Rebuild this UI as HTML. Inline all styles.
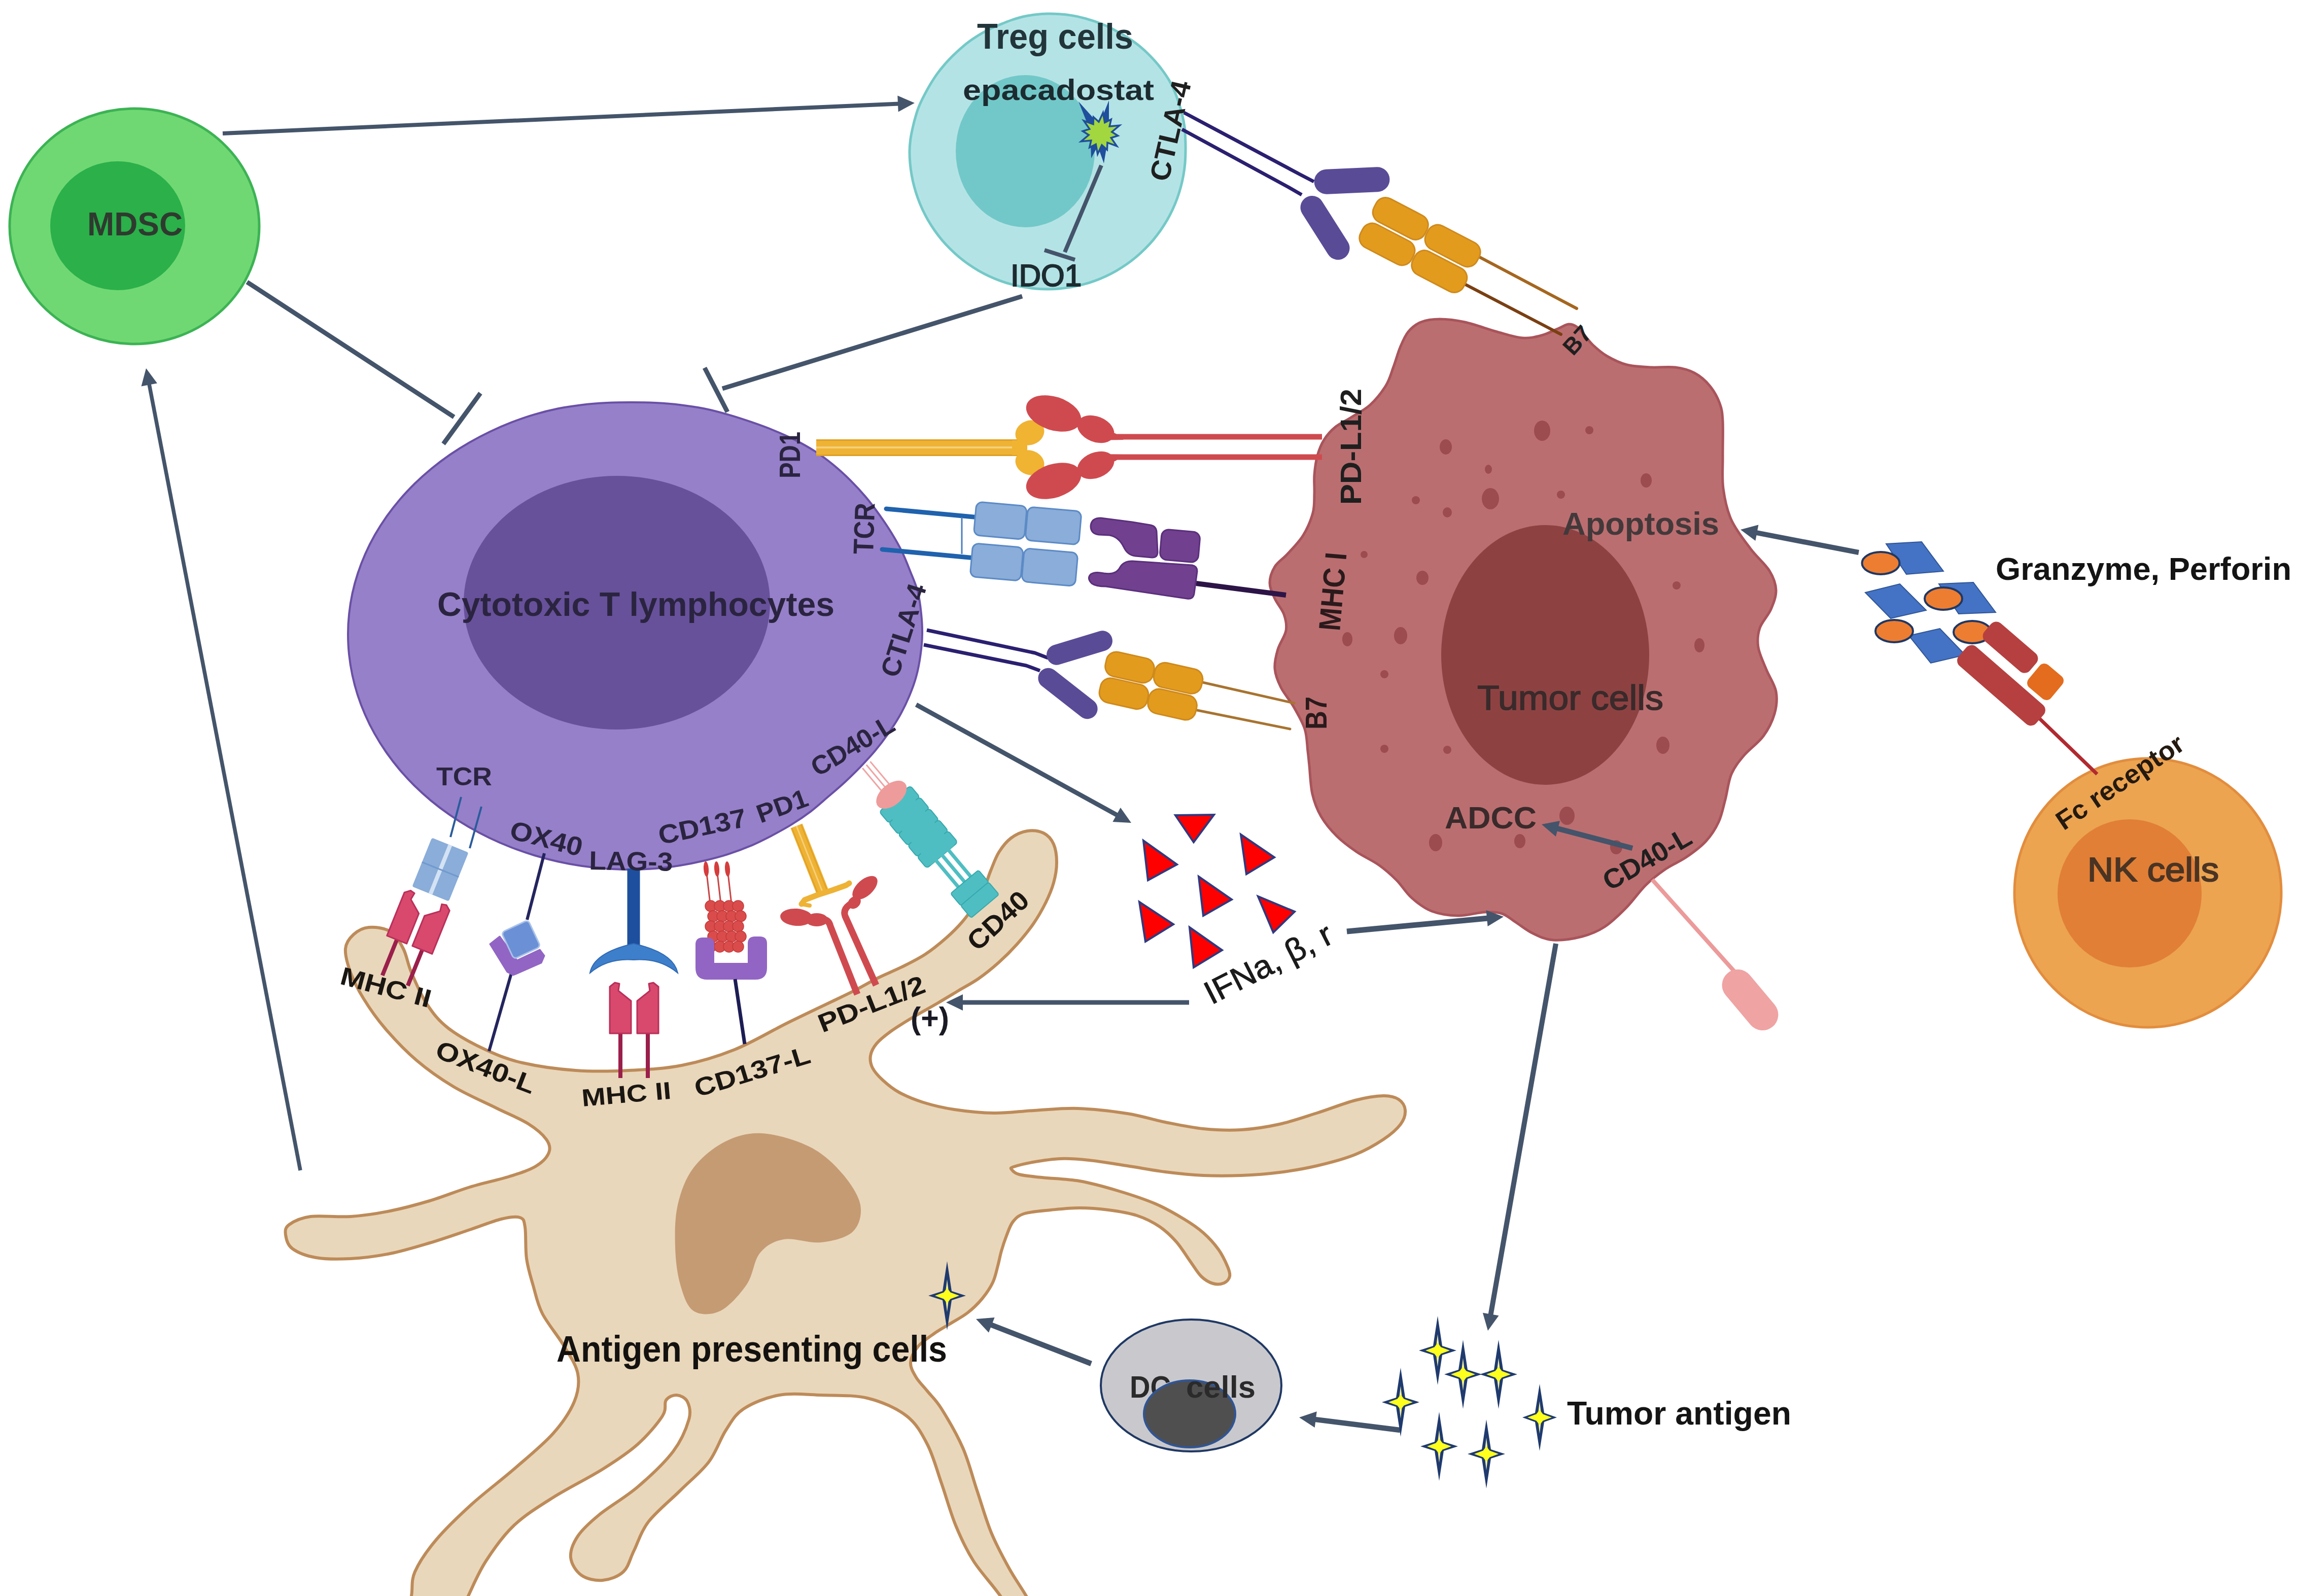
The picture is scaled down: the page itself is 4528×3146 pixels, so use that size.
<!DOCTYPE html>
<html><head><meta charset="utf-8"><title>Tumor immune microenvironment</title>
<style>
html,body{margin:0;padding:0;background:#fff;}
body{width:4528px;height:3146px;overflow:hidden;}
svg{display:block;font-family:"Liberation Sans",sans-serif;}
</style></head><body>
<svg xmlns="http://www.w3.org/2000/svg" width="4528" height="3146" viewBox="0 0 4528 3146">
<rect width="4528" height="3146" fill="#ffffff"/>
<path d="M681.0 1870.0 C682.0 1857.5 689.3 1849.0 697.0 1842.0 C704.7 1835.0 715.0 1829.0 727.0 1828.0 C739.0 1827.0 757.7 1829.0 769.0 1836.0 C780.3 1843.0 788.0 1856.5 795.0 1870.0 C802.0 1883.5 803.2 1898.7 811.0 1917.0 C818.8 1935.3 829.8 1961.7 842.0 1980.0 C854.2 1998.3 864.8 2012.2 884.0 2027.0 C903.2 2041.8 932.7 2057.7 957.0 2069.0 C981.3 2080.3 1000.3 2088.2 1030.0 2095.0 C1059.7 2101.8 1100.2 2107.5 1135.0 2110.0 C1169.8 2112.5 1204.2 2111.7 1239.0 2110.0 C1273.8 2108.3 1309.2 2106.8 1344.0 2100.0 C1378.8 2093.2 1413.2 2083.0 1448.0 2069.0 C1482.8 2055.0 1518.2 2033.2 1553.0 2016.0 C1587.8 1998.8 1633.3 1977.5 1657.0 1966.0 C1680.7 1954.5 1682.5 1953.5 1695.0 1947.0 C1707.5 1940.5 1717.8 1934.0 1732.0 1927.0 C1746.2 1920.0 1764.7 1912.7 1780.0 1905.0 C1795.3 1897.3 1809.8 1890.3 1824.0 1881.0 C1838.2 1871.7 1852.8 1859.7 1865.0 1849.0 C1877.2 1838.3 1887.7 1827.8 1897.0 1817.0 C1906.3 1806.2 1913.7 1795.5 1921.0 1784.0 C1928.3 1772.5 1935.7 1759.3 1941.0 1748.0 C1946.3 1736.7 1948.3 1727.3 1953.0 1716.0 C1957.7 1704.7 1962.3 1690.7 1969.0 1680.0 C1975.7 1669.3 1983.7 1659.0 1993.0 1652.0 C2002.3 1645.0 2014.3 1639.7 2025.0 1638.0 C2035.7 1636.3 2048.3 1637.7 2057.0 1642.0 C2065.7 1646.3 2072.7 1654.3 2077.0 1664.0 C2081.3 1673.7 2083.0 1687.3 2083.0 1700.0 C2083.0 1712.7 2080.7 1726.7 2077.0 1740.0 C2073.3 1753.3 2067.7 1766.5 2061.0 1780.0 C2054.3 1793.5 2046.3 1807.5 2037.0 1821.0 C2027.7 1834.5 2016.3 1848.3 2005.0 1861.0 C1993.7 1873.7 1981.7 1885.7 1969.0 1897.0 C1956.3 1908.3 1942.3 1919.7 1929.0 1929.0 C1915.7 1938.3 1902.3 1945.0 1889.0 1953.0 C1875.7 1961.0 1863.8 1968.3 1849.0 1977.0 C1834.2 1985.7 1815.5 1995.7 1800.0 2005.0 C1784.5 2014.3 1768.0 2024.3 1756.0 2033.0 C1744.0 2041.7 1734.7 2049.0 1728.0 2057.0 C1721.3 2065.0 1717.3 2073.0 1716.0 2081.0 C1714.7 2089.0 1716.0 2097.0 1720.0 2105.0 C1724.0 2113.0 1731.3 2121.0 1740.0 2129.0 C1748.7 2137.0 1758.7 2145.7 1772.0 2153.0 C1785.3 2160.3 1801.8 2167.3 1820.0 2173.0 C1838.2 2178.7 1857.7 2183.5 1881.0 2187.0 C1904.3 2190.5 1933.8 2193.7 1960.0 2194.0 C1986.2 2194.3 2010.5 2190.5 2038.0 2189.0 C2065.5 2187.5 2094.3 2184.0 2125.0 2185.0 C2155.7 2186.0 2193.3 2190.5 2222.0 2195.0 C2250.7 2199.5 2272.0 2207.0 2297.0 2212.0 C2322.0 2217.0 2347.0 2222.5 2372.0 2225.0 C2397.0 2227.5 2422.0 2228.5 2447.0 2227.0 C2472.0 2225.5 2497.2 2221.5 2522.0 2216.0 C2546.8 2210.5 2571.2 2201.8 2596.0 2194.0 C2620.8 2186.2 2649.2 2174.7 2671.0 2169.0 C2692.8 2163.3 2712.7 2160.3 2727.0 2160.0 C2741.3 2159.7 2749.8 2162.3 2757.0 2167.0 C2764.2 2171.7 2769.3 2179.8 2770.0 2188.0 C2770.7 2196.2 2768.2 2206.3 2761.0 2216.0 C2753.8 2225.7 2742.0 2236.0 2727.0 2246.0 C2712.0 2256.0 2692.8 2267.3 2671.0 2276.0 C2649.2 2284.7 2620.8 2292.2 2596.0 2298.0 C2571.2 2303.8 2546.8 2307.8 2522.0 2311.0 C2497.2 2314.2 2472.0 2316.0 2447.0 2317.0 C2422.0 2318.0 2397.0 2318.2 2372.0 2317.0 C2347.0 2315.8 2322.0 2313.2 2297.0 2310.0 C2272.0 2306.8 2247.0 2301.8 2222.0 2298.0 C2197.0 2294.2 2168.8 2289.3 2147.0 2287.0 C2125.2 2284.7 2109.7 2283.3 2091.0 2284.0 C2072.3 2284.7 2050.5 2288.3 2035.0 2291.0 C2019.5 2293.7 2004.8 2297.7 1998.0 2300.0 C1991.2 2302.3 1992.2 2302.5 1994.0 2305.0 C1995.8 2307.5 1999.0 2312.3 2009.0 2315.0 C2019.0 2317.7 2034.2 2318.8 2054.0 2321.0 C2073.8 2323.2 2103.2 2323.7 2128.0 2328.0 C2152.8 2332.3 2178.0 2339.5 2203.0 2347.0 C2228.0 2354.5 2256.2 2363.7 2278.0 2373.0 C2299.8 2382.3 2318.3 2393.5 2334.0 2403.0 C2349.7 2412.5 2360.7 2420.0 2372.0 2430.0 C2383.3 2440.0 2394.0 2451.8 2402.0 2463.0 C2410.0 2474.2 2416.3 2488.2 2420.0 2497.0 C2423.7 2505.8 2425.2 2510.7 2424.0 2516.0 C2422.8 2521.3 2418.5 2526.7 2413.0 2529.0 C2407.5 2531.3 2398.5 2532.2 2391.0 2530.0 C2383.5 2527.8 2375.5 2523.3 2368.0 2516.0 C2360.5 2508.7 2354.2 2497.3 2346.0 2486.0 C2337.8 2474.7 2329.0 2459.3 2319.0 2448.0 C2309.0 2436.7 2299.0 2426.7 2286.0 2418.0 C2273.0 2409.3 2257.8 2401.5 2241.0 2396.0 C2224.2 2390.5 2203.8 2387.5 2185.0 2385.0 C2166.2 2382.5 2146.8 2381.0 2128.0 2381.0 C2109.2 2381.0 2090.0 2383.2 2072.0 2385.0 C2054.0 2386.8 2032.5 2388.2 2020.0 2392.0 C2007.5 2395.8 2003.0 2400.7 1997.0 2408.0 C1991.0 2415.3 1987.8 2426.3 1984.0 2436.0 C1980.2 2445.7 1976.8 2456.2 1974.0 2466.0 C1971.2 2475.8 1969.8 2484.7 1967.0 2495.0 C1964.2 2505.3 1962.2 2517.2 1957.0 2528.0 C1951.8 2538.8 1944.3 2550.0 1936.0 2560.0 C1927.7 2570.0 1918.0 2579.5 1907.0 2588.0 C1896.0 2596.5 1881.0 2604.2 1870.0 2611.0 C1859.0 2617.8 1851.2 2621.7 1841.0 2629.0 C1830.8 2636.3 1816.7 2645.5 1809.0 2655.0 C1801.3 2664.5 1795.5 2676.0 1795.0 2686.0 C1794.5 2696.0 1800.5 2705.7 1806.0 2715.0 C1811.5 2724.3 1819.7 2731.7 1828.0 2742.0 C1836.3 2752.3 1844.3 2758.3 1856.0 2777.0 C1867.7 2795.7 1886.3 2827.2 1898.0 2854.0 C1909.7 2880.8 1916.7 2910.2 1926.0 2938.0 C1935.3 2965.8 1943.5 2995.5 1954.0 3021.0 C1964.5 3046.5 1977.5 3070.2 1989.0 3091.0 C2000.5 3111.8 2011.2 3126.2 2023.0 3146.0 C2034.8 3165.8 2062.2 3199.3 2060.0 3210.0 C2057.8 3220.7 2024.7 3220.7 2010.0 3210.0 C1995.3 3199.3 1987.2 3168.2 1972.0 3146.0 C1956.8 3123.8 1933.7 3100.2 1919.0 3077.0 C1904.3 3053.8 1894.5 3032.5 1884.0 3007.0 C1873.5 2981.5 1865.3 2950.7 1856.0 2924.0 C1846.7 2897.3 1839.5 2869.2 1828.0 2847.0 C1816.5 2824.8 1806.7 2806.2 1787.0 2791.0 C1767.3 2775.8 1738.0 2762.8 1710.0 2756.0 C1682.0 2749.2 1648.0 2751.0 1619.0 2750.0 C1590.0 2749.0 1561.5 2745.5 1536.0 2750.0 C1510.5 2754.5 1483.5 2765.5 1466.0 2777.0 C1448.5 2788.5 1442.5 2801.5 1431.0 2819.0 C1419.5 2836.5 1412.0 2862.2 1397.0 2882.0 C1382.0 2901.8 1360.8 2918.3 1341.0 2938.0 C1321.2 2957.7 1293.2 2980.3 1278.0 3000.0 C1262.8 3019.7 1258.2 3039.7 1250.0 3056.0 C1241.8 3072.3 1239.3 3088.2 1229.0 3098.0 C1218.7 3107.8 1201.8 3113.8 1188.0 3115.0 C1174.2 3116.2 1156.5 3112.5 1146.0 3105.0 C1135.5 3097.5 1126.2 3082.8 1125.0 3070.0 C1123.8 3057.2 1129.7 3042.0 1139.0 3028.0 C1148.3 3014.0 1161.3 3002.2 1181.0 2986.0 C1200.7 2969.8 1232.7 2951.8 1257.0 2931.0 C1281.3 2910.2 1310.2 2883.2 1327.0 2861.0 C1343.8 2838.8 1353.3 2814.3 1358.0 2798.0 C1362.7 2781.7 1359.0 2771.0 1355.0 2763.0 C1351.0 2755.0 1341.0 2750.5 1334.0 2750.0 C1327.0 2749.5 1317.7 2753.2 1313.0 2760.0 C1308.3 2766.8 1315.3 2776.5 1306.0 2791.0 C1296.7 2805.5 1276.7 2829.5 1257.0 2847.0 C1237.3 2864.5 1215.8 2878.5 1188.0 2896.0 C1160.2 2913.5 1119.2 2933.5 1090.0 2952.0 C1060.8 2970.5 1035.0 2986.2 1013.0 3007.0 C991.0 3027.8 973.0 3053.8 958.0 3077.0 C943.0 3100.2 932.7 3125.5 923.0 3146.0 C913.3 3166.5 920.5 3191.0 900.0 3200.0 C879.5 3209.0 814.8 3209.0 800.0 3200.0 C785.2 3191.0 808.0 3163.0 811.0 3146.0 C814.0 3129.0 809.8 3116.5 818.0 3098.0 C826.2 3079.5 841.3 3057.2 860.0 3035.0 C878.7 3012.8 904.5 2988.2 930.0 2965.0 C955.5 2941.8 986.3 2919.2 1013.0 2896.0 C1039.7 2872.8 1070.2 2848.2 1090.0 2826.0 C1109.8 2803.8 1123.8 2782.7 1132.0 2763.0 C1140.2 2743.3 1142.5 2726.5 1139.0 2708.0 C1135.5 2689.5 1122.7 2671.8 1111.0 2652.0 C1099.3 2632.2 1079.0 2608.7 1069.0 2589.0 C1059.0 2569.3 1056.2 2552.0 1051.0 2534.0 C1045.8 2516.0 1040.7 2500.2 1038.0 2481.0 C1035.3 2461.8 1037.2 2432.5 1035.0 2419.0 C1032.8 2405.5 1032.8 2402.7 1025.0 2400.0 C1017.2 2397.3 1004.5 2399.0 988.0 2403.0 C971.5 2407.0 949.5 2416.2 926.0 2424.0 C902.5 2431.8 873.2 2442.2 847.0 2450.0 C820.8 2457.8 795.0 2465.8 769.0 2471.0 C743.0 2476.2 715.3 2479.7 691.0 2481.0 C666.7 2482.3 642.2 2482.3 623.0 2479.0 C603.8 2475.7 586.0 2468.5 576.0 2461.0 C566.0 2453.5 564.0 2441.8 563.0 2434.0 C562.0 2426.2 561.8 2420.0 570.0 2414.0 C578.2 2408.0 591.8 2400.7 612.0 2398.0 C632.2 2395.3 664.8 2399.8 691.0 2398.0 C717.2 2396.2 743.0 2392.2 769.0 2387.0 C795.0 2381.8 820.8 2374.8 847.0 2367.0 C873.2 2359.2 899.8 2348.0 926.0 2340.0 C952.2 2332.0 982.3 2325.8 1004.0 2319.0 C1025.7 2312.2 1043.0 2306.8 1056.0 2299.0 C1069.0 2291.2 1078.5 2280.8 1082.0 2272.0 C1085.5 2263.2 1083.8 2255.5 1077.0 2246.0 C1070.2 2236.5 1057.5 2225.3 1041.0 2215.0 C1024.5 2204.7 1002.5 2196.2 978.0 2184.0 C953.5 2171.8 920.2 2157.7 894.0 2142.0 C867.8 2126.3 843.5 2109.2 821.0 2090.0 C798.5 2070.8 776.3 2047.2 759.0 2027.0 C741.7 2006.8 728.3 1987.3 717.0 1969.0 C705.7 1950.7 697.0 1933.5 691.0 1917.0 C685.0 1900.5 680.0 1882.5 681.0 1870.0Z" fill="#e9d7bb" stroke="#bd8b59" stroke-width="6" stroke-linejoin="round"/>
<path d="M1503.0 2234.0 C1530.8 2235.8 1570.8 2247.8 1597.0 2261.0 C1623.2 2274.2 1643.5 2294.0 1660.0 2313.0 C1676.5 2332.0 1692.5 2355.8 1696.0 2375.0 C1699.5 2394.2 1694.0 2415.7 1681.0 2428.0 C1668.0 2440.3 1640.7 2446.5 1618.0 2449.0 C1595.3 2451.5 1565.0 2439.5 1545.0 2443.0 C1525.0 2446.5 1510.2 2455.2 1498.0 2470.0 C1485.8 2484.8 1485.0 2513.0 1472.0 2532.0 C1459.0 2551.0 1437.5 2575.3 1420.0 2584.0 C1402.5 2592.7 1380.2 2592.7 1367.0 2584.0 C1353.8 2575.3 1347.0 2552.8 1341.0 2532.0 C1335.0 2511.2 1331.8 2485.2 1331.0 2459.0 C1330.2 2432.8 1330.0 2401.2 1336.0 2375.0 C1342.0 2348.8 1351.3 2322.8 1367.0 2302.0 C1382.7 2281.2 1407.3 2261.3 1430.0 2250.0 C1452.7 2238.7 1475.2 2232.2 1503.0 2234.0Z" fill="#c59b74"/>
<path d="M686.0 1250.0 C686.0 1236.5 686.7 1223.0 688.2 1209.6 C689.6 1196.1 691.8 1182.7 694.6 1169.5 C697.5 1156.2 701.1 1143.0 705.4 1130.0 C709.6 1117.0 714.6 1104.2 720.2 1091.5 C725.8 1078.9 732.1 1066.5 739.0 1054.3 C746.0 1042.2 753.6 1030.3 761.7 1018.7 C769.9 1007.1 778.7 995.8 788.1 984.8 C797.4 973.9 807.4 963.3 817.8 953.0 C828.3 942.8 839.3 933.0 850.8 923.5 C862.3 914.1 874.3 905.1 886.7 896.5 C899.1 888.0 912.0 879.8 925.3 872.2 C938.5 864.6 952.2 857.4 966.2 850.7 C980.2 844.1 994.6 837.9 1009.2 832.2 C1023.9 826.6 1038.8 821.3 1054.0 816.9 C1069.2 812.4 1084.7 808.5 1100.4 805.3 C1116.0 802.2 1131.9 799.9 1147.8 798.0 C1163.7 796.1 1179.8 795.0 1195.8 794.1 C1211.9 793.3 1227.9 793.0 1244.0 793.0 C1260.1 793.0 1276.1 793.3 1292.2 794.1 C1308.2 795.0 1324.3 796.1 1340.2 798.0 C1356.1 799.9 1372.0 802.2 1387.6 805.3 C1403.3 808.5 1418.7 812.5 1434.0 816.9 C1449.2 821.2 1464.2 826.1 1479.1 831.2 C1494.0 836.3 1508.9 841.6 1523.3 847.5 C1537.8 853.4 1552.2 859.6 1566.0 866.6 C1579.8 873.6 1593.4 881.1 1606.3 889.4 C1619.1 897.7 1631.4 907.0 1643.0 916.5 C1654.7 926.1 1665.8 936.3 1676.4 946.8 C1686.9 957.2 1697.0 968.1 1706.4 979.4 C1715.9 990.6 1724.6 1002.3 1733.0 1014.0 C1741.4 1025.8 1749.5 1037.7 1757.0 1049.8 C1764.5 1062.0 1771.7 1074.4 1777.9 1087.1 C1784.2 1099.8 1789.2 1113.1 1794.4 1126.2 C1799.6 1139.4 1805.6 1152.5 1809.2 1166.1 C1812.7 1179.7 1814.3 1193.9 1815.8 1207.9 C1817.3 1221.9 1818.2 1236.0 1818.0 1250.0 C1817.8 1264.0 1816.4 1278.1 1814.4 1292.0 C1812.5 1305.8 1809.9 1319.8 1806.2 1333.3 C1802.5 1346.8 1797.6 1360.1 1792.1 1373.0 C1786.7 1386.0 1780.4 1398.7 1773.5 1411.0 C1766.6 1423.2 1758.7 1435.0 1750.6 1446.6 C1742.5 1458.1 1733.9 1469.4 1724.8 1480.3 C1715.7 1491.2 1705.9 1501.5 1696.0 1511.8 C1686.0 1522.1 1675.8 1532.2 1665.2 1542.0 C1654.6 1551.8 1643.5 1561.1 1632.4 1570.6 C1621.2 1580.2 1610.3 1590.2 1598.4 1599.3 C1586.5 1608.3 1574.0 1616.9 1561.0 1624.9 C1548.1 1632.9 1534.6 1640.2 1520.9 1647.4 C1507.1 1654.5 1493.2 1661.6 1478.7 1667.7 C1464.3 1673.8 1449.4 1679.3 1434.3 1684.1 C1419.2 1688.9 1403.6 1692.9 1388.1 1696.5 C1372.5 1700.2 1356.7 1703.4 1340.8 1706.0 C1324.8 1708.5 1308.7 1710.6 1292.6 1711.9 C1276.5 1713.3 1260.2 1713.9 1244.0 1714.0 C1227.8 1714.1 1211.5 1713.4 1195.4 1712.2 C1179.2 1711.1 1163.1 1709.3 1147.1 1707.0 C1131.1 1704.6 1115.2 1701.7 1099.6 1698.2 C1083.9 1694.7 1068.4 1690.6 1053.2 1686.0 C1037.9 1681.4 1022.9 1676.2 1008.2 1670.5 C993.5 1664.8 979.0 1658.6 965.0 1651.8 C951.0 1645.1 937.2 1637.8 923.9 1630.1 C910.7 1622.4 897.7 1614.1 885.3 1605.4 C872.9 1596.8 860.9 1587.6 849.4 1578.1 C838.0 1568.6 827.0 1558.6 816.5 1548.3 C806.1 1537.9 796.2 1527.2 786.9 1516.1 C777.6 1505.1 768.9 1493.7 760.8 1482.0 C752.7 1470.3 745.1 1458.3 738.3 1446.1 C731.4 1433.9 725.2 1421.4 719.7 1408.7 C714.1 1396.0 709.2 1383.1 705.0 1370.1 C700.8 1357.1 697.3 1343.8 694.5 1330.6 C691.7 1317.3 689.5 1303.9 688.1 1290.4 C686.7 1277.0 686.0 1263.5 686.0 1250.0Z" fill="#9680c9" stroke="#6a50a6" stroke-width="4"/>
<ellipse cx="1216" cy="1188" rx="302" ry="250" fill="#67519a"/>
<path d="M2801.0 635.0 C2811.3 630.8 2823.5 629.0 2838.0 629.0 C2852.5 629.0 2869.2 630.8 2888.0 635.0 C2906.8 639.2 2932.2 648.8 2951.0 654.0 C2969.8 659.2 2986.3 664.8 3001.0 666.0 C3015.7 667.2 3027.0 664.2 3039.0 661.0 C3051.0 657.8 3064.2 650.7 3073.0 647.0 C3081.8 643.3 3086.2 639.5 3092.0 639.0 C3097.8 638.5 3103.0 640.7 3108.0 644.0 C3113.0 647.3 3116.7 653.0 3122.0 659.0 C3127.3 665.0 3132.3 672.8 3140.0 680.0 C3147.7 687.2 3156.8 695.5 3168.0 702.0 C3179.2 708.5 3192.5 715.3 3207.0 719.0 C3221.5 722.7 3239.2 723.2 3255.0 724.0 C3270.8 724.8 3287.8 722.2 3302.0 724.0 C3316.2 725.8 3328.7 729.0 3340.0 735.0 C3351.3 741.0 3361.7 750.0 3370.0 760.0 C3378.3 770.0 3385.7 783.3 3390.0 795.0 C3394.3 806.7 3395.0 812.5 3396.0 830.0 C3397.0 847.5 3395.8 877.8 3396.0 900.0 C3396.2 922.2 3394.2 942.2 3397.0 963.0 C3399.8 983.8 3404.0 1005.2 3413.0 1025.0 C3422.0 1044.8 3438.5 1065.3 3451.0 1082.0 C3463.5 1098.7 3479.7 1111.5 3488.0 1125.0 C3496.3 1138.5 3500.5 1150.3 3501.0 1163.0 C3501.5 1175.7 3496.3 1188.5 3491.0 1201.0 C3485.7 1213.5 3473.2 1225.5 3469.0 1238.0 C3464.8 1250.5 3463.8 1262.3 3466.0 1276.0 C3468.2 1289.7 3476.2 1305.5 3482.0 1320.0 C3487.8 1334.5 3498.3 1348.5 3501.0 1363.0 C3503.7 1377.5 3502.2 1392.3 3498.0 1407.0 C3493.8 1421.7 3486.0 1437.3 3476.0 1451.0 C3466.0 1464.7 3448.5 1476.5 3438.0 1489.0 C3427.5 1501.5 3419.2 1511.5 3413.0 1526.0 C3406.8 1540.5 3405.2 1560.3 3401.0 1576.0 C3396.8 1591.7 3394.3 1606.3 3388.0 1620.0 C3381.7 1633.7 3373.5 1646.5 3363.0 1658.0 C3352.5 1669.5 3338.5 1679.7 3325.0 1689.0 C3311.5 1698.3 3295.5 1704.7 3282.0 1714.0 C3268.5 1723.3 3256.7 1732.5 3244.0 1745.0 C3231.3 1757.5 3219.5 1775.3 3206.0 1789.0 C3192.5 1802.7 3177.5 1817.5 3163.0 1827.0 C3148.5 1836.5 3135.8 1841.7 3119.0 1846.0 C3102.2 1850.3 3078.2 1854.0 3062.0 1853.0 C3045.8 1852.0 3034.3 1845.8 3022.0 1840.0 C3009.7 1834.2 2998.2 1824.5 2988.0 1818.0 C2977.8 1811.5 2971.2 1804.3 2961.0 1801.0 C2950.8 1797.7 2941.5 1797.3 2927.0 1798.0 C2912.5 1798.7 2891.5 1805.3 2874.0 1805.0 C2856.5 1804.7 2837.2 1801.8 2822.0 1796.0 C2806.8 1790.2 2794.5 1780.2 2783.0 1770.0 C2771.5 1759.8 2763.8 1745.8 2753.0 1735.0 C2742.2 1724.2 2731.2 1714.3 2718.0 1705.0 C2704.8 1695.7 2687.8 1688.5 2674.0 1679.0 C2660.2 1669.5 2646.7 1659.7 2635.0 1648.0 C2623.3 1636.3 2612.0 1622.8 2604.0 1609.0 C2596.0 1595.2 2590.8 1581.7 2587.0 1565.0 C2583.2 1548.3 2582.5 1523.0 2581.0 1509.0 C2579.5 1495.0 2579.5 1493.0 2578.0 1481.0 C2576.5 1469.0 2576.7 1451.7 2572.0 1437.0 C2567.3 1422.3 2557.8 1406.7 2550.0 1393.0 C2542.2 1379.3 2531.2 1367.5 2525.0 1355.0 C2518.8 1342.5 2514.0 1330.5 2513.0 1318.0 C2512.0 1305.5 2515.3 1292.5 2519.0 1280.0 C2522.7 1267.5 2533.0 1254.5 2535.0 1243.0 C2537.0 1231.5 2534.7 1221.5 2531.0 1211.0 C2527.3 1200.5 2517.7 1190.3 2513.0 1180.0 C2508.3 1169.7 2503.0 1159.5 2503.0 1149.0 C2503.0 1138.5 2507.2 1126.5 2513.0 1117.0 C2518.8 1107.5 2528.7 1102.3 2538.0 1092.0 C2547.3 1081.7 2560.7 1068.5 2569.0 1055.0 C2577.3 1041.5 2584.3 1024.7 2588.0 1011.0 C2591.7 997.3 2590.5 985.5 2591.0 973.0 C2591.5 960.5 2590.0 948.5 2591.0 936.0 C2592.0 923.5 2593.8 909.5 2597.0 898.0 C2600.2 886.5 2604.2 876.3 2610.0 867.0 C2615.8 857.7 2623.2 849.3 2632.0 842.0 C2640.8 834.7 2651.5 830.3 2663.0 823.0 C2674.5 815.7 2689.5 808.5 2701.0 798.0 C2712.5 787.5 2724.3 772.5 2732.0 760.0 C2739.7 747.5 2742.3 735.5 2747.0 723.0 C2751.7 710.5 2755.2 696.5 2760.0 685.0 C2764.8 673.5 2769.2 662.3 2776.0 654.0 C2782.8 645.7 2790.7 639.2 2801.0 635.0Z" fill="#bb6e70" stroke="#a9545b" stroke-width="5"/>
<ellipse cx="2850" cy="881" rx="12" ry="15" fill="#9c4b4e"/>
<ellipse cx="3040" cy="849" rx="16" ry="20" fill="#9c4b4e"/>
<ellipse cx="3133" cy="848" rx="8" ry="8" fill="#9c4b4e"/>
<ellipse cx="2934" cy="925" rx="7" ry="9" fill="#9c4b4e"/>
<ellipse cx="2938" cy="983" rx="17" ry="21" fill="#9c4b4e"/>
<ellipse cx="2791" cy="986" rx="8" ry="8" fill="#9c4b4e"/>
<ellipse cx="2853" cy="1010" rx="9" ry="10" fill="#9c4b4e"/>
<ellipse cx="3077" cy="975" rx="8" ry="8" fill="#9c4b4e"/>
<ellipse cx="3245" cy="947" rx="11" ry="14" fill="#9c4b4e"/>
<ellipse cx="2689" cy="1093" rx="7" ry="7" fill="#9c4b4e"/>
<ellipse cx="2804" cy="1139" rx="12" ry="14" fill="#9c4b4e"/>
<ellipse cx="3305" cy="1154" rx="8" ry="8" fill="#9c4b4e"/>
<ellipse cx="2761" cy="1253" rx="13" ry="17" fill="#9c4b4e"/>
<ellipse cx="2656" cy="1260" rx="10" ry="14" fill="#9c4b4e"/>
<ellipse cx="3350" cy="1272" rx="10" ry="14" fill="#9c4b4e"/>
<ellipse cx="2729" cy="1329" rx="8" ry="8" fill="#9c4b4e"/>
<ellipse cx="2729" cy="1476" rx="8" ry="8" fill="#9c4b4e"/>
<ellipse cx="2853" cy="1478" rx="8" ry="8" fill="#9c4b4e"/>
<ellipse cx="3278" cy="1469" rx="13" ry="17" fill="#9c4b4e"/>
<ellipse cx="3089" cy="1608" rx="15" ry="18" fill="#9c4b4e"/>
<ellipse cx="2830" cy="1661" rx="13" ry="17" fill="#9c4b4e"/>
<ellipse cx="2996" cy="1658" rx="11" ry="14" fill="#9c4b4e"/>
<ellipse cx="3186" cy="1670" rx="12" ry="14" fill="#9c4b4e"/>
<ellipse cx="3046" cy="1291" rx="205" ry="256" fill="#8d4241"/>
<ellipse cx="265" cy="446" rx="246" ry="232" fill="#70d873" stroke="#3cb354" stroke-width="5"/>
<ellipse cx="232" cy="445" rx="133" ry="127" fill="#2bb04a"/>
<path d="M1793.0 298.0 C1793.1 290.1 1793.8 282.2 1794.8 274.4 C1795.9 266.6 1797.6 258.8 1799.3 251.2 C1801.0 243.5 1802.9 235.9 1805.2 228.4 C1807.4 220.9 1809.9 213.4 1813.0 206.3 C1816.0 199.1 1819.6 192.1 1823.2 185.3 C1826.8 178.4 1830.6 171.6 1834.6 165.0 C1838.7 158.4 1842.8 151.8 1847.3 145.6 C1851.8 139.3 1856.7 133.3 1861.8 127.5 C1866.8 121.7 1872.2 116.1 1877.6 110.6 C1883.1 105.2 1888.7 99.8 1894.5 94.8 C1900.3 89.7 1906.3 84.8 1912.6 80.3 C1918.8 75.8 1925.4 71.6 1932.0 67.6 C1938.6 63.7 1945.5 60.0 1952.4 56.6 C1959.4 53.2 1966.6 50.3 1973.8 47.4 C1981.0 44.4 1988.2 41.5 1995.6 39.0 C2003.0 36.5 2010.5 34.2 2018.2 32.5 C2025.8 30.8 2033.6 29.6 2041.4 28.7 C2049.2 27.8 2057.1 27.2 2065.0 27.0 C2072.9 26.8 2080.8 27.2 2088.6 27.8 C2096.5 28.3 2104.4 29.1 2112.2 30.4 C2120.0 31.6 2127.7 33.3 2135.4 35.3 C2143.1 37.2 2150.6 39.6 2158.1 42.2 C2165.6 44.8 2173.0 47.6 2180.3 50.8 C2187.5 54.0 2194.5 57.8 2201.5 61.6 C2208.5 65.4 2215.4 69.3 2222.2 73.6 C2228.9 77.8 2235.5 82.4 2241.8 87.3 C2248.1 92.2 2254.1 97.5 2260.0 103.0 C2265.8 108.5 2271.5 114.3 2276.8 120.3 C2282.1 126.3 2287.2 132.6 2291.9 139.1 C2296.7 145.6 2301.3 152.3 2305.3 159.3 C2309.3 166.2 2312.8 173.6 2315.9 181.0 C2319.0 188.4 2321.6 196.1 2324.0 203.7 C2326.5 211.4 2328.8 219.0 2330.6 226.8 C2332.5 234.6 2334.0 242.5 2335.1 250.4 C2336.1 258.3 2336.4 266.3 2336.7 274.2 C2337.1 282.2 2337.1 290.1 2337.0 298.0 C2336.9 305.9 2336.7 313.8 2336.0 321.7 C2335.3 329.6 2334.2 337.5 2332.9 345.2 C2331.5 353.0 2329.8 360.8 2327.7 368.4 C2325.7 376.0 2323.3 383.6 2320.6 391.0 C2317.9 398.5 2314.9 405.8 2311.5 413.0 C2308.2 420.1 2304.5 427.2 2300.6 434.0 C2296.6 440.8 2292.3 447.5 2287.8 454.0 C2283.3 460.5 2278.4 466.8 2273.4 472.8 C2268.3 478.9 2262.9 484.7 2257.3 490.3 C2251.7 495.9 2245.9 501.3 2239.8 506.4 C2233.8 511.4 2227.5 516.3 2221.0 520.8 C2214.5 525.3 2207.8 529.6 2201.0 533.6 C2194.2 537.5 2187.1 541.2 2180.0 544.5 C2172.8 547.9 2165.5 550.9 2158.0 553.6 C2150.6 556.3 2143.0 558.7 2135.4 560.7 C2127.8 562.8 2120.0 564.5 2112.2 565.9 C2104.5 567.2 2096.6 568.3 2088.7 569.0 C2080.8 569.7 2072.9 570.0 2065.0 570.0 C2057.1 570.0 2049.2 569.7 2041.3 569.0 C2033.4 568.3 2025.5 567.2 2017.8 565.9 C2010.0 564.5 2002.2 562.8 1994.6 560.7 C1987.0 558.7 1979.4 556.3 1972.0 553.6 C1964.5 550.9 1957.2 547.9 1950.0 544.5 C1942.9 541.2 1935.8 537.5 1929.0 533.6 C1922.2 529.6 1915.5 525.3 1909.0 520.8 C1902.5 516.3 1896.2 511.4 1890.2 506.4 C1884.1 501.3 1878.3 495.9 1872.7 490.3 C1867.1 484.7 1861.7 478.9 1856.6 472.8 C1851.6 466.8 1846.7 460.5 1842.2 454.0 C1837.7 447.5 1833.4 440.8 1829.4 434.0 C1825.5 427.2 1821.8 420.1 1818.5 413.0 C1815.1 405.8 1812.1 398.5 1809.4 391.0 C1806.7 383.6 1804.3 376.0 1802.3 368.4 C1800.2 360.8 1798.5 353.0 1797.1 345.2 C1795.8 337.5 1794.7 329.6 1794.0 321.7 C1793.3 313.8 1792.9 305.9 1793.0 298.0Z" fill="#b4e3e6" stroke="#74c9c7" stroke-width="5"/>
<ellipse cx="2021" cy="298" rx="137" ry="150" fill="#72c8c8"/>
<ellipse cx="4234" cy="1760" rx="263" ry="265" fill="#eca451" stroke="#e28d3e" stroke-width="5"/>
<ellipse cx="4198" cy="1761" rx="142" ry="146" fill="#e17f36"/>
<ellipse cx="2348" cy="2731" rx="178" ry="130" fill="#c9c9cd" stroke="#1f3864" stroke-width="4"/>
<path d="M2334 222 L2563 344 L2590 358" fill="none" stroke="#2a1f70" stroke-width="7" stroke-linejoin="round"/>
<path d="M2330 255 L2540 369 L2566 384" fill="none" stroke="#2a1f70" stroke-width="7" stroke-linejoin="round"/>
<rect x="2590.5" y="331.5" width="149.0" height="49.0" rx="24.5" ry="24.5" fill="#5a4b97" transform="rotate(-2.5 2665.0 356.0)"/>
<rect x="2541.5" y="426.0" width="141.0" height="46.0" rx="23.0" ry="23.0" fill="#5a4b97" transform="rotate(57.5 2612.0 449.0)"/>
<defs><linearGradient id="b7g" x1="0" y1="0" x2="1" y2="0"><stop offset="0" stop-color="#c98a2b"/><stop offset="1" stop-color="#5e2f10"/></linearGradient></defs>
<line x1="2900.0" y1="498.0" x2="3108.0" y2="608.0" stroke="#a5661f" stroke-width="6" stroke-linecap="round"/>
<line x1="2870.0" y1="551.0" x2="3077.0" y2="659.0" stroke="#7a3f12" stroke-width="6" stroke-linecap="round"/>
<g transform="translate(2799 483) rotate(27.5)">
<rect x="-114.5" y="-54.0" width="113" height="51" rx="21" ry="21" fill="#e39b1e" stroke="#cf8a1c" stroke-width="3"/>
<rect x="1.5" y="-54.0" width="113" height="51" rx="21" ry="21" fill="#e39b1e" stroke="#cf8a1c" stroke-width="3"/>
<rect x="-114.5" y="3.0" width="113" height="51" rx="21" ry="21" fill="#e39b1e" stroke="#cf8a1c" stroke-width="3"/>
<rect x="1.5" y="3.0" width="113" height="51" rx="21" ry="21" fill="#e39b1e" stroke="#cf8a1c" stroke-width="3"/>
</g>
<rect x="1609" y="866" width="400" height="33" fill="#eeb235"/>
<rect x="1609" y="880" width="400" height="4" fill="#f6cf78"/>
<rect x="1609" y="866" width="400" height="3" fill="#dfa024"/><rect x="1609" y="896" width="400" height="3" fill="#dfa024"/>
<ellipse cx="2030" cy="853" rx="29" ry="24" fill="#f0b332" transform="rotate(-20 2030 853)"/>
<ellipse cx="2030" cy="912" rx="29" ry="24" fill="#f0b332" transform="rotate(20 2030 912)"/>
<rect x="1995" y="868" width="30" height="29" fill="#f0b332"/>
<line x1="2190.0" y1="861.0" x2="2606.0" y2="861.0" stroke="#cf4a4f" stroke-width="11" stroke-linecap="butt"/>
<line x1="2190.0" y1="901.0" x2="2606.0" y2="901.0" stroke="#cf4a4f" stroke-width="11" stroke-linecap="butt"/>
<ellipse cx="2077" cy="815" rx="56" ry="33" fill="#cf4a4f" transform="rotate(18 2077 815)"/>
<ellipse cx="2160" cy="846" rx="38" ry="25" fill="#cf4a4f" transform="rotate(22 2160 846)"/>
<path d="M2120 820 L2200 855 L2215 867 L2150 868 Z" fill="#cf4a4f" />
<ellipse cx="2077" cy="948" rx="56" ry="33" fill="#cf4a4f" transform="rotate(-18 2077 948)"/>
<ellipse cx="2160" cy="917" rx="38" ry="25" fill="#cf4a4f" transform="rotate(-22 2160 917)"/>
<path d="M2120 943 L2200 908 L2215 896 L2150 895 Z" fill="#cf4a4f" />
<line x1="1747.0" y1="1003.0" x2="1930.0" y2="1020.0" stroke="#1f62ad" stroke-width="9" stroke-linecap="round"/>
<line x1="1739.0" y1="1083.0" x2="1922.0" y2="1100.0" stroke="#1f62ad" stroke-width="9" stroke-linecap="round"/>
<line x1="1896.0" y1="1020.0" x2="1896.0" y2="1092.0" stroke="#4d7fc0" stroke-width="3" stroke-linecap="butt"/>
<g transform="translate(1925 989) rotate(5)">
<rect x="0" y="0" width="100" height="66" rx="12" ry="12" fill="#8aadd9" stroke="#5c8ac6" stroke-width="3"/>
<rect x="102" y="1" width="106" height="66" rx="12" ry="12" fill="#8aadd9" stroke="#5c8ac6" stroke-width="3"/>
<rect x="0" y="82" width="100" height="66" rx="12" ry="12" fill="#8aadd9" stroke="#5c8ac6" stroke-width="3"/>
<rect x="102" y="83" width="106" height="66" rx="12" ry="12" fill="#8aadd9" stroke="#5c8ac6" stroke-width="3"/>
</g>
<path d="M2170 1021 L2232 1029 L2268 1035 Q2279 1037 2280 1048 L2282 1088 Q2282 1099 2271 1099 L2238 1096 Q2222 1094 2215 1078 Q2205 1058 2187 1055 L2166 1054 Q2150 1052 2150 1037 Q2151 1021 2170 1021 Z" fill="#71408f" stroke="#5b2f7c" stroke-width="3" />
<rect x="2288" y="1046" width="76" height="60" rx="14" ry="14" fill="#71408f" stroke="#5b2f7c" stroke-width="3" transform="rotate(5 2326 1076)"/>
<path d="M2150 1132 Q2142 1140 2152 1150 Q2160 1156 2180 1156 L2340 1180 Q2352 1182 2354 1170 L2360 1126 Q2360 1116 2350 1114 L2232 1106 Q2215 1106 2208 1118 Q2200 1134 2176 1130 Q2158 1126 2150 1132 Z" fill="#71408f" stroke="#5b2f7c" stroke-width="3" />
<line x1="2358.0" y1="1150.0" x2="2535.0" y2="1173.0" stroke="#2c1447" stroke-width="10" stroke-linecap="butt"/>
<path d="M1827 1242 L2040 1287 L2066 1297" fill="none" stroke="#2a1f70" stroke-width="7" stroke-linejoin="round"/>
<path d="M1821 1271 L2023 1312 L2050 1322" fill="none" stroke="#2a1f70" stroke-width="7" stroke-linejoin="round"/>
<rect x="2061.0" y="1257.0" width="134.0" height="40.0" rx="20.0" ry="20.0" fill="#5a4b97" transform="rotate(-17.0 2128.0 1277.0)"/>
<rect x="2036.0" y="1347.0" width="138.0" height="40.0" rx="20.0" ry="20.0" fill="#5a4b97" transform="rotate(38.0 2105.0 1367.0)"/>
<line x1="2366.0" y1="1344.0" x2="2551.0" y2="1386.0" stroke="#a8732f" stroke-width="5" stroke-linecap="round"/>
<line x1="2355.0" y1="1399.0" x2="2543.0" y2="1437.0" stroke="#a8732f" stroke-width="5" stroke-linecap="round"/>
<g transform="translate(2269 1352) rotate(12.6)">
<rect x="-97.0" y="-51.0" width="96" height="49" rx="20" ry="20" fill="#e39b1e" stroke="#cf8a1c" stroke-width="3"/>
<rect x="1.0" y="-51.0" width="96" height="49" rx="20" ry="20" fill="#e39b1e" stroke="#cf8a1c" stroke-width="3"/>
<rect x="-97.0" y="2.0" width="96" height="49" rx="20" ry="20" fill="#e39b1e" stroke="#cf8a1c" stroke-width="3"/>
<rect x="1.0" y="2.0" width="96" height="49" rx="20" ry="20" fill="#e39b1e" stroke="#cf8a1c" stroke-width="3"/>
</g>
<line x1="909.0" y1="1571.0" x2="888.0" y2="1650.0" stroke="#2a5c9c" stroke-width="4" stroke-linecap="butt"/>
<line x1="949.0" y1="1590.0" x2="926.0" y2="1672.0" stroke="#2a5c9c" stroke-width="4" stroke-linecap="butt"/>
<g transform="translate(868 1714) rotate(22)">
<rect x="-39" y="-52" width="78" height="104" rx="4" fill="#8aadd9"/>
<rect x="-4" y="-52" width="8" height="104" fill="#d3e2f4"/>
<line x1="-39" y1="0" x2="39" y2="0" stroke="#7199cd" stroke-width="3"/>
<line x1="-39" y1="-52" x2="39" y2="-52" stroke="#e6eef9" stroke-width="0"/>
</g>
<g transform="rotate(22.0 826.0 1816.0)">
<line x1="799.0" y1="1864.0" x2="799.0" y2="1942.0" stroke="#9b1f4b" stroke-width="8" stroke-linecap="butt"/>
<line x1="853.0" y1="1864.0" x2="853.0" y2="1942.0" stroke="#9b1f4b" stroke-width="8" stroke-linecap="butt"/>
<polygon points="778.0,1774.0 788.0,1766.0 797.0,1768.0 795.0,1782.0 820.0,1802.0 820.0,1866.0 778.0,1866.0" fill="#d9486d" stroke="#b9305a" stroke-width="3" stroke-linejoin="round"/>
<polygon points="874.0,1774.0 864.0,1766.0 855.0,1768.0 857.0,1782.0 832.0,1802.0 832.0,1866.0 874.0,1866.0" fill="#d9486d" stroke="#b9305a" stroke-width="3" stroke-linejoin="round"/>
</g>
<line x1="1073.0" y1="1682.0" x2="1039.0" y2="1813.0" stroke="#24245e" stroke-width="6" stroke-linecap="butt"/>
<line x1="1009.0" y1="1915.0" x2="964.0" y2="2072.0" stroke="#24245e" stroke-width="6" stroke-linecap="butt"/>
<polygon points="966.0,1861.0 985.0,1846.0 1019.0,1893.0 1064.0,1872.0 1073.0,1884.0 1067.0,1898.0 1012.0,1922.0 1000.0,1916.0" fill="#9265c4" stroke="#9265c4" stroke-width="3" stroke-linejoin="round"/>
<rect x="-29" y="-29" width="58" height="58" rx="7" fill="#6b90d6" stroke="#a9c2ea" stroke-width="3" transform="translate(1027 1852) rotate(-25)"/>
<line x1="1249.0" y1="1712.0" x2="1249.0" y2="1870.0" stroke="#1e4f9e" stroke-width="25" stroke-linecap="butt"/>
<path d="M1163 1918 Q1170 1878 1249 1860 Q1328 1878 1336 1918 Q1300 1888 1249 1892 Q1198 1888 1163 1918 Z" fill="#3e7fcb" stroke="#2f6ab5" stroke-width="2" />
<g transform="rotate(0.0 1250.0 1987.0)">
<line x1="1223.0" y1="2035.0" x2="1223.0" y2="2125.0" stroke="#9b1f4b" stroke-width="8" stroke-linecap="butt"/>
<line x1="1277.0" y1="2035.0" x2="1277.0" y2="2125.0" stroke="#9b1f4b" stroke-width="8" stroke-linecap="butt"/>
<polygon points="1202.0,1945.0 1212.0,1937.0 1221.0,1939.0 1219.0,1953.0 1244.0,1973.0 1244.0,2037.0 1202.0,2037.0" fill="#d9486d" stroke="#b9305a" stroke-width="3" stroke-linejoin="round"/>
<polygon points="1298.0,1945.0 1288.0,1937.0 1279.0,1939.0 1281.0,1953.0 1256.0,1973.0 1256.0,2037.0 1298.0,2037.0" fill="#d9486d" stroke="#b9305a" stroke-width="3" stroke-linejoin="round"/>
</g>
<line x1="1392.0" y1="1712.0" x2="1400.0" y2="1782.0" stroke="#c94545" stroke-width="3" stroke-linecap="butt"/>
<ellipse cx="1392" cy="1713" rx="5" ry="15" fill="#d63c3c" transform="rotate(-4 1392 1713)"/>
<line x1="1413.0" y1="1712.0" x2="1421.0" y2="1782.0" stroke="#c94545" stroke-width="3" stroke-linecap="butt"/>
<ellipse cx="1413" cy="1713" rx="5" ry="15" fill="#d63c3c" transform="rotate(-4 1413 1713)"/>
<line x1="1434.0" y1="1712.0" x2="1442.0" y2="1782.0" stroke="#c94545" stroke-width="3" stroke-linecap="butt"/>
<ellipse cx="1434" cy="1713" rx="5" ry="15" fill="#d63c3c" transform="rotate(-4 1434 1713)"/>
<circle cx="1401.0" cy="1786.0" r="11" fill="#da4c4c" stroke="#c53a3a" stroke-width="1.5"/>
<circle cx="1419.0" cy="1786.0" r="11" fill="#da4c4c" stroke="#c53a3a" stroke-width="1.5"/>
<circle cx="1437.0" cy="1786.0" r="11" fill="#da4c4c" stroke="#c53a3a" stroke-width="1.5"/>
<circle cx="1455.0" cy="1786.0" r="11" fill="#da4c4c" stroke="#c53a3a" stroke-width="1.5"/>
<circle cx="1406.0" cy="1806.0" r="11" fill="#da4c4c" stroke="#c53a3a" stroke-width="1.5"/>
<circle cx="1424.0" cy="1806.0" r="11" fill="#da4c4c" stroke="#c53a3a" stroke-width="1.5"/>
<circle cx="1442.0" cy="1806.0" r="11" fill="#da4c4c" stroke="#c53a3a" stroke-width="1.5"/>
<circle cx="1460.0" cy="1806.0" r="11" fill="#da4c4c" stroke="#c53a3a" stroke-width="1.5"/>
<circle cx="1401.0" cy="1826.0" r="11" fill="#da4c4c" stroke="#c53a3a" stroke-width="1.5"/>
<circle cx="1419.0" cy="1826.0" r="11" fill="#da4c4c" stroke="#c53a3a" stroke-width="1.5"/>
<circle cx="1437.0" cy="1826.0" r="11" fill="#da4c4c" stroke="#c53a3a" stroke-width="1.5"/>
<circle cx="1455.0" cy="1826.0" r="11" fill="#da4c4c" stroke="#c53a3a" stroke-width="1.5"/>
<circle cx="1406.0" cy="1846.0" r="11" fill="#da4c4c" stroke="#c53a3a" stroke-width="1.5"/>
<circle cx="1424.0" cy="1846.0" r="11" fill="#da4c4c" stroke="#c53a3a" stroke-width="1.5"/>
<circle cx="1442.0" cy="1846.0" r="11" fill="#da4c4c" stroke="#c53a3a" stroke-width="1.5"/>
<circle cx="1460.0" cy="1846.0" r="11" fill="#da4c4c" stroke="#c53a3a" stroke-width="1.5"/>
<circle cx="1401.0" cy="1866.0" r="11" fill="#da4c4c" stroke="#c53a3a" stroke-width="1.5"/>
<circle cx="1419.0" cy="1866.0" r="11" fill="#da4c4c" stroke="#c53a3a" stroke-width="1.5"/>
<circle cx="1437.0" cy="1866.0" r="11" fill="#da4c4c" stroke="#c53a3a" stroke-width="1.5"/>
<circle cx="1455.0" cy="1866.0" r="11" fill="#da4c4c" stroke="#c53a3a" stroke-width="1.5"/>
<path d="M1371 1862 Q1371 1848 1385 1848 L1394 1848 Q1408 1848 1408 1862 L1408 1898 L1474 1898 L1474 1860 Q1474 1846 1488 1846 L1498 1846 Q1512 1846 1512 1860 L1512 1908 Q1512 1931 1489 1931 L1394 1931 Q1371 1931 1371 1908 Z" fill="#9265c4" />
<line x1="1449.0" y1="1930.0" x2="1468.0" y2="2058.0" stroke="#1d1d55" stroke-width="7" stroke-linecap="butt"/>
<line x1="1570.0" y1="1628.0" x2="1621.0" y2="1757.0" stroke="#eeb235" stroke-width="25" stroke-linecap="butt"/>
<line x1="1570.0" y1="1628.0" x2="1621.0" y2="1757.0" stroke="#f6cf78" stroke-width="3" stroke-linecap="butt"/>
<line x1="1561.0" y1="1632.0" x2="1612.0" y2="1761.0" stroke="#dfa024" stroke-width="2" stroke-linecap="butt"/>
<line x1="1579.0" y1="1625.0" x2="1630.0" y2="1754.0" stroke="#dfa024" stroke-width="2" stroke-linecap="butt"/>
<path d="M1580 1782 L1586 1774 L1612 1764 L1640 1755 L1668 1745 L1674 1741" fill="none" stroke="#eeb235" stroke-width="11" stroke-linejoin="round" stroke-linecap="round"/>
<path d="M1580 1782 L1596 1785" fill="none" stroke="#eeb235" stroke-width="8" stroke-linecap="round"/>
<path d="M1620 1812 Q1634 1812 1637 1826 L1690 1960" fill="none" stroke="#cf4a4f" stroke-width="13" stroke-linejoin="round"/>
<path d="M1683 1778 Q1660 1790 1666 1806 L1727 1942" fill="none" stroke="#cf4a4f" stroke-width="13" stroke-linejoin="round"/>
<ellipse cx="1570" cy="1808" rx="32" ry="17" fill="#cf4a4f" transform="rotate(4 1570 1808)"/>
<ellipse cx="1610" cy="1813" rx="22" ry="13" fill="#cf4a4f"/>
<ellipse cx="1705" cy="1750" rx="30" ry="16" fill="#cf4a4f" transform="rotate(-42 1705 1750)"/>
<ellipse cx="1684" cy="1779" rx="14" ry="11" fill="#cf4a4f" transform="rotate(-42 1684 1779)"/>
<g transform="translate(1756 1565) rotate(50)">
<line x1="-75" y1="-10" x2="0" y2="-10" stroke="#f0a3a3" stroke-width="3"/>
<line x1="-75" y1="0" x2="0" y2="0" stroke="#f0a3a3" stroke-width="3"/>
<line x1="-75" y1="10" x2="0" y2="10" stroke="#f0a3a3" stroke-width="3"/>
<rect x="12.0" y="-40" width="30" height="80" rx="6" fill="#4fbec2" stroke="#35a9ae" stroke-width="2"/>
<rect x="41.0" y="-40" width="30" height="80" rx="6" fill="#4fbec2" stroke="#35a9ae" stroke-width="2"/>
<rect x="70.0" y="-40" width="30" height="80" rx="6" fill="#4fbec2" stroke="#35a9ae" stroke-width="2"/>
<rect x="99.0" y="-40" width="30" height="80" rx="6" fill="#4fbec2" stroke="#35a9ae" stroke-width="2"/>
<rect x="128.0" y="-40" width="30" height="80" rx="6" fill="#4fbec2" stroke="#35a9ae" stroke-width="2"/>
<rect x="12" y="-30" width="146" height="60" fill="#4fbec2"/>
<ellipse cx="2" cy="0" rx="21" ry="35" fill="#ee9b9b"/>
<line x1="150" y1="-16" x2="232" y2="-16" stroke="#4fbec2" stroke-width="7"/>
<line x1="150" y1="0" x2="232" y2="0" stroke="#4fbec2" stroke-width="7"/>
<line x1="150" y1="16" x2="232" y2="16" stroke="#4fbec2" stroke-width="7"/>
<rect x="226.0" y="-36" width="32" height="72" rx="4" fill="#4fbec2" stroke="#35a9ae" stroke-width="2"/>
<rect x="257.0" y="-36" width="32" height="72" rx="4" fill="#4fbec2" stroke="#35a9ae" stroke-width="2"/>
</g>
<polygon points="2317.0,1607.0 2393.0,1606.0 2353.0,1660.0" fill="#fe0000" stroke="#2f3a80" stroke-width="4" stroke-linejoin="miter"/>
<polygon points="2254.0,1657.0 2263.0,1735.0 2320.0,1704.0" fill="#fe0000" stroke="#2f3a80" stroke-width="4" stroke-linejoin="miter"/>
<polygon points="2446.0,1645.0 2457.0,1723.0 2512.0,1690.0" fill="#fe0000" stroke="#2f3a80" stroke-width="4" stroke-linejoin="miter"/>
<polygon points="2363.0,1728.0 2372.0,1805.0 2428.0,1773.0" fill="#fe0000" stroke="#2f3a80" stroke-width="4" stroke-linejoin="miter"/>
<polygon points="2246.0,1778.0 2258.0,1856.0 2313.0,1822.0" fill="#fe0000" stroke="#2f3a80" stroke-width="4" stroke-linejoin="miter"/>
<polygon points="2480.0,1767.0 2510.0,1838.0 2552.0,1797.0" fill="#fe0000" stroke="#2f3a80" stroke-width="4" stroke-linejoin="miter"/>
<polygon points="2345.0,1828.0 2353.0,1907.0 2409.0,1873.0" fill="#fe0000" stroke="#2f3a80" stroke-width="4" stroke-linejoin="miter"/>
<polygon points="3718.0,1072.0 3788.0,1068.0 3831.0,1126.0 3758.0,1132.0" fill="#4472c4" stroke="#2f5597" stroke-width="2" stroke-linejoin="miter"/>
<polygon points="3677.0,1168.0 3745.0,1151.0 3797.0,1203.0 3727.0,1219.0" fill="#4472c4" stroke="#2f5597" stroke-width="2" stroke-linejoin="miter"/>
<polygon points="3822.0,1151.0 3890.0,1148.0 3934.0,1207.0 3861.0,1210.0" fill="#4472c4" stroke="#2f5597" stroke-width="2" stroke-linejoin="miter"/>
<polygon points="3763.0,1253.0 3824.0,1239.0 3874.0,1291.0 3806.0,1307.0" fill="#4472c4" stroke="#2f5597" stroke-width="2" stroke-linejoin="miter"/>
<ellipse cx="3707.5" cy="1110.0" rx="37" ry="22" fill="#ed7d31" stroke="#1f3864" stroke-width="4"/>
<ellipse cx="3831.0" cy="1180.0" rx="37" ry="22" fill="#ed7d31" stroke="#1f3864" stroke-width="4"/>
<ellipse cx="3734.0" cy="1244.0" rx="37" ry="22" fill="#ed7d31" stroke="#1f3864" stroke-width="4"/>
<ellipse cx="3888.0" cy="1246.0" rx="37" ry="22" fill="#ed7d31" stroke="#1f3864" stroke-width="4"/>
<line x1="4020.0" y1="1416.0" x2="4134.0" y2="1526.0" stroke="#b02a30" stroke-width="7" stroke-linecap="butt"/>
<rect x="3904.0" y="1252.5" width="118.0" height="47.0" rx="14.0" ry="14.0" fill="#b5403f" transform="rotate(40.7 3963.0 1276.0)"/>
<rect x="3844.0" y="1326.0" width="202.0" height="50.0" rx="14.0" ry="14.0" fill="#b5403f" transform="rotate(41.0 3945.0 1351.0)"/>
<rect x="4003.0" y="1315.0" width="58.0" height="58.0" rx="12.0" ry="12.0" fill="#e36c1e" transform="rotate(40.0 4032.0 1344.0)"/>
<line x1="3257.0" y1="1734.0" x2="3428.0" y2="1925.0" stroke="#ec9a9a" stroke-width="8" stroke-linecap="butt"/>
<rect x="3381.0" y="1940.0" width="138.0" height="62.0" rx="31.0" ry="31.0" fill="#efa3a3" transform="rotate(50.0 3450.0 1971.0)"/>
<polygon points="2126.0,200.0 2160.0,238.0 2146.0,250.0" fill="#1f4e9c"/>
<polygon points="2186.0,198.0 2186.0,240.0 2170.0,238.0" fill="#1f4e9c"/>
<polygon points="2151.0,312.0 2150.0,284.0 2164.0,288.0" fill="#1f4e9c"/>
<polygon points="2176.0,322.0 2164.0,288.0 2182.0,286.0" fill="#1f4e9c"/>
<polygon points="2174.3,222.3 2177.8,241.7 2190.3,235.2 2187.2,249.0 2206.9,247.3 2191.8,260.0 2203.7,267.5 2190.3,271.8 2201.5,287.9 2183.0,281.2 2182.4,295.3 2172.0,285.8 2163.7,303.7 2160.2,284.3 2147.7,290.8 2150.8,277.0 2131.1,278.7 2146.2,266.0 2134.3,258.5 2147.7,254.2 2136.5,238.1 2155.0,244.8 2155.6,230.7 2166.0,240.2" fill="#a2d740" stroke="#1f4e9c" stroke-width="3.5" stroke-linejoin="miter"/>
<line x1="2171.0" y1="326.0" x2="2099.0" y2="497.0" stroke="#44546a" stroke-width="8"/>
<line x1="2059.0" y1="493.0" x2="2119.0" y2="512.0" stroke="#44546a" stroke-width="8"/>
<line x1="439.0" y1="263.0" x2="1772.0" y2="204.4" stroke="#44546a" stroke-width="8"/>
<polygon points="1803.0,203.0 1770.7,220.4 1769.3,188.5" fill="#44546a"/>
<line x1="487.0" y1="556.0" x2="895.0" y2="822.0" stroke="#44546a" stroke-width="9"/>
<line x1="947.0" y1="775.0" x2="874.0" y2="875.0" stroke="#44546a" stroke-width="9"/>
<line x1="2015.0" y1="584.0" x2="1424.0" y2="766.0" stroke="#44546a" stroke-width="9"/>
<line x1="1389.0" y1="725.0" x2="1434.0" y2="812.0" stroke="#44546a" stroke-width="9"/>
<line x1="592.0" y1="2307.0" x2="293.9" y2="756.4" stroke="#44546a" stroke-width="7.5"/>
<polygon points="288.0,726.0 309.9,755.4 278.5,761.4" fill="#44546a"/>
<line x1="1806.0" y1="1389.0" x2="2202.8" y2="1607.1" stroke="#44546a" stroke-width="9"/>
<polygon points="2230.0,1622.0 2193.4,1620.1 2208.8,1592.1" fill="#44546a"/>
<line x1="2655.0" y1="1836.0" x2="2933.1" y2="1809.9" stroke="#44546a" stroke-width="11"/>
<polygon points="2964.0,1807.0 2932.6,1826.0 2929.6,1794.2" fill="#44546a"/>
<line x1="2344.0" y1="1976.0" x2="1896.0" y2="1976.0" stroke="#44546a" stroke-width="9"/>
<polygon points="1865.0,1976.0 1898.0,1960.0 1898.0,1992.0" fill="#44546a"/>
<line x1="3067.0" y1="1860.0" x2="2938.4" y2="2592.5" stroke="#44546a" stroke-width="10"/>
<polygon points="2933.0,2623.0 2922.9,2587.7 2954.5,2593.3" fill="#44546a"/>
<line x1="3664.0" y1="1089.0" x2="3461.4" y2="1049.9" stroke="#44546a" stroke-width="10"/>
<polygon points="3431.0,1044.0 3466.4,1034.5 3460.4,1066.0" fill="#44546a"/>
<line x1="3218.0" y1="1672.0" x2="3069.0" y2="1632.9" stroke="#44546a" stroke-width="10.5"/>
<polygon points="3039.0,1625.0 3075.0,1617.9 3066.9,1648.9" fill="#44546a"/>
<line x1="2151.0" y1="2688.0" x2="1952.9" y2="2611.2" stroke="#44546a" stroke-width="10.5"/>
<polygon points="1924.0,2600.0 1960.6,2597.0 1949.0,2626.8" fill="#44546a"/>
<line x1="2760.0" y1="2819.0" x2="2591.8" y2="2797.9" stroke="#44546a" stroke-width="10.5"/>
<polygon points="2561.0,2794.0 2595.7,2782.2 2591.7,2814.0" fill="#44546a"/>
<polygon points="1867.0,2486.0 1876.0,2545.0 1904.0,2554.0 1876.0,2563.0 1867.0,2622.0 1858.0,2563.0 1830.0,2554.0 1858.0,2545.0" fill="#1f3a6e"/>
<polygon points="1867.0,2522.0 1870.5,2550.5 1881.0,2554.0 1870.5,2557.5 1867.0,2586.0 1863.5,2557.5 1853.0,2554.0 1863.5,2550.5" fill="#f1f0a8"/>
<polygon points="1867.0,2539.0 1873.5,2547.5 1891.0,2554.0 1873.5,2560.5 1867.0,2569.0 1860.5,2560.5 1843.0,2554.0 1860.5,2547.5" fill="#ffff1e"/>
<polygon points="2834.0,2594.0 2843.0,2653.0 2871.0,2662.0 2843.0,2671.0 2834.0,2730.0 2825.0,2671.0 2797.0,2662.0 2825.0,2653.0" fill="#1f3a6e"/>
<polygon points="2834.0,2630.0 2837.5,2658.5 2848.0,2662.0 2837.5,2665.5 2834.0,2694.0 2830.5,2665.5 2820.0,2662.0 2830.5,2658.5" fill="#f1f0a8"/>
<polygon points="2834.0,2647.0 2840.5,2655.5 2858.0,2662.0 2840.5,2668.5 2834.0,2677.0 2827.5,2668.5 2810.0,2662.0 2827.5,2655.5" fill="#ffff1e"/>
<polygon points="2884.0,2641.0 2893.0,2700.0 2921.0,2709.0 2893.0,2718.0 2884.0,2777.0 2875.0,2718.0 2847.0,2709.0 2875.0,2700.0" fill="#1f3a6e"/>
<polygon points="2884.0,2677.0 2887.5,2705.5 2898.0,2709.0 2887.5,2712.5 2884.0,2741.0 2880.5,2712.5 2870.0,2709.0 2880.5,2705.5" fill="#f1f0a8"/>
<polygon points="2884.0,2694.0 2890.5,2702.5 2908.0,2709.0 2890.5,2715.5 2884.0,2724.0 2877.5,2715.5 2860.0,2709.0 2877.5,2702.5" fill="#ffff1e"/>
<polygon points="2954.0,2641.0 2963.0,2700.0 2991.0,2709.0 2963.0,2718.0 2954.0,2777.0 2945.0,2718.0 2917.0,2709.0 2945.0,2700.0" fill="#1f3a6e"/>
<polygon points="2954.0,2677.0 2957.5,2705.5 2968.0,2709.0 2957.5,2712.5 2954.0,2741.0 2950.5,2712.5 2940.0,2709.0 2950.5,2705.5" fill="#f1f0a8"/>
<polygon points="2954.0,2694.0 2960.5,2702.5 2978.0,2709.0 2960.5,2715.5 2954.0,2724.0 2947.5,2715.5 2930.0,2709.0 2947.5,2702.5" fill="#ffff1e"/>
<polygon points="2761.0,2696.0 2770.0,2755.0 2798.0,2764.0 2770.0,2773.0 2761.0,2832.0 2752.0,2773.0 2724.0,2764.0 2752.0,2755.0" fill="#1f3a6e"/>
<polygon points="2761.0,2732.0 2764.5,2760.5 2775.0,2764.0 2764.5,2767.5 2761.0,2796.0 2757.5,2767.5 2747.0,2764.0 2757.5,2760.5" fill="#f1f0a8"/>
<polygon points="2761.0,2749.0 2767.5,2757.5 2785.0,2764.0 2767.5,2770.5 2761.0,2779.0 2754.5,2770.5 2737.0,2764.0 2754.5,2757.5" fill="#ffff1e"/>
<polygon points="2837.0,2783.0 2846.0,2842.0 2874.0,2851.0 2846.0,2860.0 2837.0,2919.0 2828.0,2860.0 2800.0,2851.0 2828.0,2842.0" fill="#1f3a6e"/>
<polygon points="2837.0,2819.0 2840.5,2847.5 2851.0,2851.0 2840.5,2854.5 2837.0,2883.0 2833.5,2854.5 2823.0,2851.0 2833.5,2847.5" fill="#f1f0a8"/>
<polygon points="2837.0,2836.0 2843.5,2844.5 2861.0,2851.0 2843.5,2857.5 2837.0,2866.0 2830.5,2857.5 2813.0,2851.0 2830.5,2844.5" fill="#ffff1e"/>
<polygon points="2930.0,2798.0 2939.0,2857.0 2967.0,2866.0 2939.0,2875.0 2930.0,2934.0 2921.0,2875.0 2893.0,2866.0 2921.0,2857.0" fill="#1f3a6e"/>
<polygon points="2930.0,2834.0 2933.5,2862.5 2944.0,2866.0 2933.5,2869.5 2930.0,2898.0 2926.5,2869.5 2916.0,2866.0 2926.5,2862.5" fill="#f1f0a8"/>
<polygon points="2930.0,2851.0 2936.5,2859.5 2954.0,2866.0 2936.5,2872.5 2930.0,2881.0 2923.5,2872.5 2906.0,2866.0 2923.5,2859.5" fill="#ffff1e"/>
<polygon points="3035.0,2728.0 3044.0,2785.0 3069.0,2794.0 3044.0,2803.0 3035.0,2860.0 3026.0,2803.0 3001.0,2794.0 3026.0,2785.0" fill="#1f3a6e"/>
<polygon points="3035.0,2762.0 3038.5,2790.5 3049.0,2794.0 3038.5,2797.5 3035.0,2826.0 3031.5,2797.5 3021.0,2794.0 3031.5,2790.5" fill="#f1f0a8"/>
<polygon points="3035.0,2779.0 3041.5,2787.5 3059.0,2794.0 3041.5,2800.5 3035.0,2809.0 3028.5,2800.5 3011.0,2794.0 3028.5,2787.5" fill="#ffff1e"/>
<text transform="translate(2227.0 2755.0)" font-size="61" font-weight="bold" fill="#2a2a2a" textLength="81.0" lengthAdjust="spacingAndGlyphs" >DC</text>
<ellipse cx="2345" cy="2787" rx="90" ry="66" fill="#4f4f4f" stroke="#2f5597" stroke-width="4"/>
<text transform="translate(2338.0 2755.0)" font-size="61" font-weight="bold" fill="#2a2a2a" textLength="137.0" lengthAdjust="spacingAndGlyphs" >cells</text>
<text transform="translate(172.0 464.0)" font-size="65" font-weight="bold" fill="#2f3a2f" textLength="188.0" lengthAdjust="spacingAndGlyphs" >MDSC</text>
<text transform="translate(1926.0 96.0)" font-size="70" font-weight="bold" fill="#22353a" textLength="308.0" lengthAdjust="spacingAndGlyphs" >Treg cells</text>
<text transform="translate(1898.0 197.0)" font-size="58" font-weight="bold" fill="#1c2b30" textLength="377.0" lengthAdjust="spacingAndGlyphs" >epacadostat</text>
<text transform="translate(1992.0 564.0)" font-size="61" font-weight="normal" fill="#1c2b30" textLength="140.0" lengthAdjust="spacingAndGlyphs" stroke="#1c2b30" stroke-width="2.2">IDO1</text>
<text transform="translate(2303.0 360.0) rotate(-77.0)" font-size="55" font-weight="bold" fill="#1f1f1f" textLength="201.0" lengthAdjust="spacingAndGlyphs" >CTLA-4</text>
<text transform="translate(3101.0 703.0) rotate(-48.0)" font-size="46" font-weight="bold" fill="#1f1f1f" >B7</text>
<text transform="translate(2683.0 995.0) rotate(-90.0)" font-size="57" font-weight="bold" fill="#1f1f1f" textLength="229.0" lengthAdjust="spacingAndGlyphs" >PD-L1/2</text>
<text transform="translate(2641.0 1245.0) rotate(-85.0)" font-size="60" font-weight="bold" fill="#2a1a1c" textLength="155.0" lengthAdjust="spacingAndGlyphs" >MHC I</text>
<text transform="translate(2615.0 1438.0) rotate(-90.0)" font-size="60" font-weight="bold" fill="#2a1a1c" textLength="65.0" lengthAdjust="spacingAndGlyphs" >B7</text>
<text transform="translate(3080.0 1054.0)" font-size="63" font-weight="bold" fill="#43393b" textLength="309.0" lengthAdjust="spacingAndGlyphs" >Apoptosis</text>
<text transform="translate(2912.0 1399.0)" font-size="68" font-weight="normal" fill="#3a2a2b" textLength="367.0" lengthAdjust="spacingAndGlyphs" stroke="#3a2a2b" stroke-width="1.6">Tumor cells</text>
<text transform="translate(2848.0 1633.0)" font-size="62" font-weight="bold" fill="#3a2a2b" textLength="181.0" lengthAdjust="spacingAndGlyphs" >ADCC</text>
<text transform="translate(3173.0 1757.0) rotate(-30.0)" font-size="54" font-weight="bold" fill="#1f1f1f" textLength="192.0" lengthAdjust="spacingAndGlyphs" >CD40-L</text>
<text transform="translate(3934.0 1143.0)" font-size="63" font-weight="bold" fill="#141414" textLength="583.0" lengthAdjust="spacingAndGlyphs" >Granzyme, Perforin</text>
<text transform="translate(4068.0 1638.0) rotate(-34.0)" font-size="52" font-weight="bold" fill="#241a10" textLength="292.0" lengthAdjust="spacingAndGlyphs" >Fc receptor</text>
<text transform="translate(4115.0 1737.0)" font-size="67" font-weight="normal" fill="#4a3424" textLength="259.0" lengthAdjust="spacingAndGlyphs" stroke="#4a3424" stroke-width="2.2">NK cells</text>
<text transform="translate(862.0 1214.0)" font-size="66" font-weight="bold" fill="#2b2440" textLength="783.0" lengthAdjust="spacingAndGlyphs" >Cytotoxic T lymphocytes</text>
<text transform="translate(1097.0 2684.0)" font-size="73" font-weight="bold" fill="#141210" textLength="770.0" lengthAdjust="spacingAndGlyphs" >Antigen presenting cells</text>
<text transform="translate(3089.0 2808.0)" font-size="64" font-weight="bold" fill="#141414" textLength="442.0" lengthAdjust="spacingAndGlyphs" >Tumor antigen</text>
<text transform="translate(2388.0 1981.0) rotate(-27.0)" font-size="64" font-weight="normal" fill="#1a1a1a" textLength="274.0" lengthAdjust="spacingAndGlyphs" stroke="#1a1a1a" stroke-width="1">IFNa, &#946;, r</text>
<text transform="translate(1795.0 2028.0)" font-size="62" font-weight="bold" fill="#1a1a24" textLength="76.0" lengthAdjust="spacingAndGlyphs" >(+)</text>
<text transform="translate(1577.0 943.0) rotate(-90.0)" font-size="57" font-weight="bold" fill="#2b2440" textLength="92.0" lengthAdjust="spacingAndGlyphs" >PD1</text>
<text transform="translate(1721.0 1093.0) rotate(-88.0)" font-size="56" font-weight="bold" fill="#2b2440" textLength="101.0" lengthAdjust="spacingAndGlyphs" >TCR</text>
<text transform="translate(1770.0 1338.0) rotate(-72.5)" font-size="53" font-weight="bold" fill="#2b2440" textLength="189.0" lengthAdjust="spacingAndGlyphs" >CTLA-4</text>
<text transform="translate(1612.0 1532.0) rotate(-31.0)" font-size="52" font-weight="bold" fill="#2b2440" textLength="182.0" lengthAdjust="spacingAndGlyphs" >CD40-L</text>
<text transform="translate(1499.0 1623.0) rotate(-20.0)" font-size="51" font-weight="bold" fill="#2b2440" textLength="104.0" lengthAdjust="spacingAndGlyphs" >PD1</text>
<text transform="translate(1302.0 1665.0) rotate(-12.0)" font-size="52" font-weight="bold" fill="#2b2440" textLength="176.0" lengthAdjust="spacingAndGlyphs" >CD137</text>
<text transform="translate(1161.0 1714.0) rotate(1.0)" font-size="52" font-weight="bold" fill="#2b2440" textLength="165.0" lengthAdjust="spacingAndGlyphs" >LAG-3</text>
<text transform="translate(1002.0 1652.0) rotate(14.5)" font-size="52" font-weight="bold" fill="#2b2440" textLength="146.0" lengthAdjust="spacingAndGlyphs" >OX40</text>
<text transform="translate(860.0 1548.0)" font-size="50" font-weight="bold" fill="#2b2440" textLength="110.0" lengthAdjust="spacingAndGlyphs" >TCR</text>
<text transform="translate(668.0 1939.0) rotate(15.0)" font-size="50" font-weight="bold" fill="#1a1612" textLength="183.0" lengthAdjust="spacingAndGlyphs" >MHC II</text>
<text transform="translate(855.0 2083.0) rotate(21.0)" font-size="51" font-weight="bold" fill="#1a1612" textLength="206.0" lengthAdjust="spacingAndGlyphs" >OX40-L</text>
<text transform="translate(1148.0 2181.0) rotate(-5.0)" font-size="48" font-weight="bold" fill="#1a1612" textLength="177.0" lengthAdjust="spacingAndGlyphs" >MHC II</text>
<text transform="translate(1375.0 2163.0) rotate(-17.0)" font-size="50" font-weight="bold" fill="#1a1612" textLength="236.0" lengthAdjust="spacingAndGlyphs" >CD137-L</text>
<text transform="translate(1621.0 2036.0) rotate(-21.5)" font-size="51" font-weight="bold" fill="#1a1612" textLength="222.0" lengthAdjust="spacingAndGlyphs" >PD-L1/2</text>
<text transform="translate(1927.0 1877.0) rotate(-43.0)" font-size="53" font-weight="bold" fill="#1a1612" textLength="144.0" lengthAdjust="spacingAndGlyphs" >CD40</text>
</svg>
</body></html>
